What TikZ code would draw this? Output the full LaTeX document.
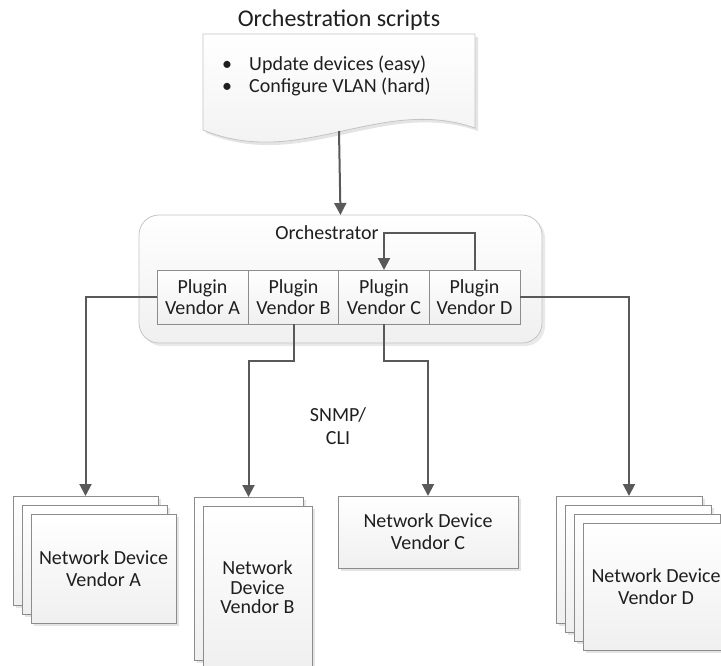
\documentclass[tikz,border=0pt]{standalone}
\usepackage{fontspec}
\setmainfont{Carlito}
\usetikzlibrary{arrows.meta,shadows,positioning}
\definecolor{linegray}{HTML}{595959}
\definecolor{edgegray}{HTML}{8C8C8C}
\definecolor{lightedge}{HTML}{C4C4C4}
\begin{document}
\begin{tikzpicture}[x=1pt,y=-1pt,
    font=\fontsize{20}{22}\selectfont, text=black!88,
    box/.style={draw=edgegray, line width=0.8pt, top color=white, bottom color=gray!12,
      inner sep=0pt, outer sep=0pt, align=center},
    shadowbox/.style={box, drop shadow={shadow xshift=3pt, shadow yshift=-3pt, opacity=0.3, fill=gray!70}},
    conn/.style={draw=linegray, line width=2pt, -{Triangle[length=12pt,width=12pt]}}]
  \useasboundingbox (0,0) rectangle (721,665);

  % scripts document
  \node (title) at (339,20) {\fontsize{24}{28}\selectfont Orchestration scripts};
  \path[draw=lightedge, line width=0.8pt, top color=white, bottom color=gray!12,
        drop shadow={shadow xshift=3pt, shadow yshift=-3pt, opacity=0.3, fill=gray!70}]
    (203,34) -- (475,34) -- (475,128) .. controls (380,95) and (300,170) .. (203,130) -- cycle;
  \node[anchor=west, inner sep=0pt] (tasks) at (222,77)
    {\begin{tabular}{@{}l@{\hspace{17pt}}l@{}}
      \textbullet & Update devices (easy)\\
      \textbullet & Configure VLAN (hard)
     \end{tabular}};
  \coordinate (docend) at (339,131);

  % orchestrator with plugins
  \node[draw=lightedge, line width=0.8pt, rounded corners=20pt, top color=white, bottom color=gray!12,
        minimum width=403pt, minimum height=128pt, inner sep=0pt, outer sep=0pt,
        drop shadow={shadow xshift=3pt, shadow yshift=-3pt, opacity=0.25, fill=gray!70}]
    (orch) at (340.5,279) {};
  \node (orchlabel) at (327,233) {Orchestrator};
  \foreach \v/\x in {A/202.5, B/293.5, C/384, D/474.5}
    \node[box, minimum width=91pt, minimum height=54pt, font=\fontsize{20}{21}\selectfont]
      (plug\v) at (\x,297) {Plugin\\Vendor \v};

  % network devices
  \foreach \i/\d in {1/0, 2/9}
    \node[shadowbox, anchor=north west, minimum width=145pt, minimum height=109pt]
      (devA\i) at (13+\d,496+\d) {};
  \node[shadowbox, anchor=north west, minimum width=145pt, minimum height=109pt]
    (devA3) at (31,514) {Network Device\\Vendor A};

  \node[shadowbox, anchor=north west, minimum width=109pt, minimum height=163pt]
    (devB1) at (194,497) {};
  \node[shadowbox, anchor=north west, minimum width=109pt, minimum height=163pt,
        font=\fontsize{20}{19.5}\selectfont]
    (devB2) at (203,506) {Network\\Device\\Vendor B};

  \node[shadowbox, anchor=north west, minimum width=180pt, minimum height=72pt]
    (devC) at (338,496) {Network Device\\Vendor C};

  \foreach \i/\d in {1/0, 2/9, 3/18}
    \node[shadowbox, anchor=north west, minimum width=146pt, minimum height=127pt]
      (devD\i) at (556+\d,496+\d) {};
  \node[shadowbox, anchor=north west, minimum width=146pt, minimum height=127pt]
    (devD4) at (583,523) {Network Device\\Vendor D};

  \node[align=center, font=\fontsize{20}{23}\selectfont] (proto) at (338,426) {SNMP/\\CLI};

  % connectors
  \draw[conn] (docend) -- (orch.north);
  \draw[conn] (plugD.north) -- ++(0,-37) -| (plugC.north);
  \draw[conn] (plugA.west) -| (devA1.north);
  \draw[conn] (plugB.south) -- ++(0,37) -| (devB1.north);
  \draw[conn] (plugC.south) -- ++(0,37) -| (devC.north);
  \draw[conn] (plugD.east) -| (devD1.north);
\end{tikzpicture}
\end{document}
